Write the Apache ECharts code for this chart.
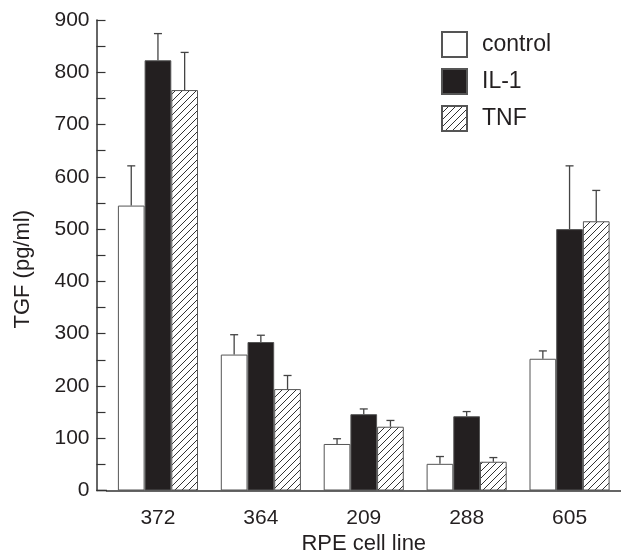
<!DOCTYPE html>
<html>
<head>
<meta charset="utf-8">
<script src="https://cdn.jsdelivr.net/npm/echarts@6/dist/echarts.min.js"></script>
<style>
html, body {margin: 0; padding: 0; background: #fff;}
#chart {width: 621px; height: 550px;}
</style>
</head>
<body>
<div id="chart"></div>
<script>
// RPE cell lines and TGF levels (pg/ml), mean + upper error
var cellLines = ['372', '364', '209', '288', '605'];
var seriesNames = ['control', 'IL-1', 'TNF'];
var controlMean = [545, 260, 89, 51, 252];
var controlErr = [76, 38, 10, 14, 15];
var il1Mean = [823, 284, 146, 142, 500];
var il1Err = [51, 13, 10, 9, 121];
var tnfMean = [766, 194, 122, 55, 515];
var tnfErr = [72, 26, 12, 8, 59];
var yMin = 0, yMax = 900, yStep = 100;

var FONT = '"Liberation Sans", Arial, sans-serif';
var INK = '#231f20';
var EDGE = '#555';
var BAR_W = 26.7;

// diagonal hatch used for TNF
function hatch() {
    var c = document.createElement('canvas');
    c.width = 7;
    c.height = 7;
    var g = c.getContext('2d');
    g.fillStyle = '#fff';
    g.fillRect(0, 0, 7, 7);
    g.strokeStyle = '#333';
    g.lineWidth = 1;
    g.beginPath();
    g.moveTo(0, 7); g.lineTo(7, 0);
    g.moveTo(-1, 1); g.lineTo(1, -1);
    g.moveTo(6, 8); g.lineTo(8, 6);
    g.stroke();
    return c;
}

function barSeries(name, data, fill) {
    return {
        name: name,
        type: 'bar',
        data: data,
        barWidth: BAR_W,
        barGap: '0%',
        itemStyle: {color: fill, borderColor: EDGE, borderWidth: 1},
        emphasis: {disabled: true}
    };
}

// upward error bar with a short cap, placed over bar number idx
function errorSeries(idx, mean, err) {
    return {
        type: 'custom',
        z: 3,
        silent: true,
        encode: {x: 0, y: [1, 2]},
        data: mean.map(function (m, i) {
            return [i, m, m + err[i]];
        }),
        renderItem: function (params, api) {
            var base = api.coord([api.value(0), api.value(1)]);
            var top = api.coord([api.value(0), api.value(2)]);
            var x = base[0] + (idx - 1) * BAR_W;
            var st = {stroke: '#444', lineWidth: 1.3};
            return {
                type: 'group',
                children: [
                    {type: 'line', shape: {x1: x, y1: base[1], x2: x, y2: top[1]}, style: st},
                    {type: 'line', shape: {x1: x - 4, y1: top[1], x2: x + 4, y2: top[1]}, style: st}
                ]
            };
        }
    };
}

var chart = echarts.init(document.getElementById('chart'));
var axisLineStyle = {color: '#333', width: 1.5};

var option = {
    animation: false,
    backgroundColor: '#fff',
    grid: {left: 106.5, right: 0, top: 20, bottom: 59.5, outerBoundsMode: 'none'},
    legend: {
        data: seriesNames,
        orient: 'vertical',
        left: 436,
        top: 26,
        icon: 'rect',
        itemWidth: 25,
        itemHeight: 25,
        itemGap: 10,
        textStyle: {fontSize: 23, color: INK, fontFamily: FONT, padding: [0, 0, 0, 10]}
    },
    xAxis: {
        type: 'category',
        data: cellLines,
        name: 'RPE cell line',
        nameLocation: 'middle',
        nameGap: 37,
        nameTextStyle: {fontSize: 22, color: INK, fontFamily: FONT},
        axisLine: {lineStyle: axisLineStyle},
        axisTick: {show: false},
        axisLabel: {fontSize: 21, color: INK, fontFamily: FONT, margin: 17}
    },
    yAxis: {
        type: 'value',
        min: yMin,
        max: yMax,
        interval: yStep,
        offset: 10,
        name: 'TGF (pg/ml)',
        nameLocation: 'middle',
        nameGap: 63,
        nameTextStyle: {fontSize: 22, color: INK, fontFamily: FONT, padding: [0, 28, 0, 0]},
        axisLine: {show: true, lineStyle: axisLineStyle},
        axisTick: {show: true, inside: true, length: 9, lineStyle: {color: '#333', width: 1.2}},
        minorTick: {show: true, splitNumber: 2, length: 9, lineStyle: {color: '#333', width: 1.2}},
        splitLine: {show: false},
        axisLabel: {fontSize: 21, color: INK, fontFamily: FONT, margin: 7}
    },
    graphic: [{
        // short stretch of the baseline between the y axis and the first band
        type: 'line',
        shape: {x1: 96.5, y1: 490.5, x2: 107, y2: 490.5},
        style: {stroke: '#333', lineWidth: 1.5}
    }],
    series: [
        barSeries(seriesNames[0], controlMean, '#fff'),
        barSeries(seriesNames[1], il1Mean, INK),
        barSeries(seriesNames[2], tnfMean, {image: hatch(), repeat: 'repeat'}),
        errorSeries(0, controlMean, controlErr),
        errorSeries(1, il1Mean, il1Err),
        errorSeries(2, tnfMean, tnfErr)
    ]
};

chart.setOption(option);
</script>
</body>
</html>
